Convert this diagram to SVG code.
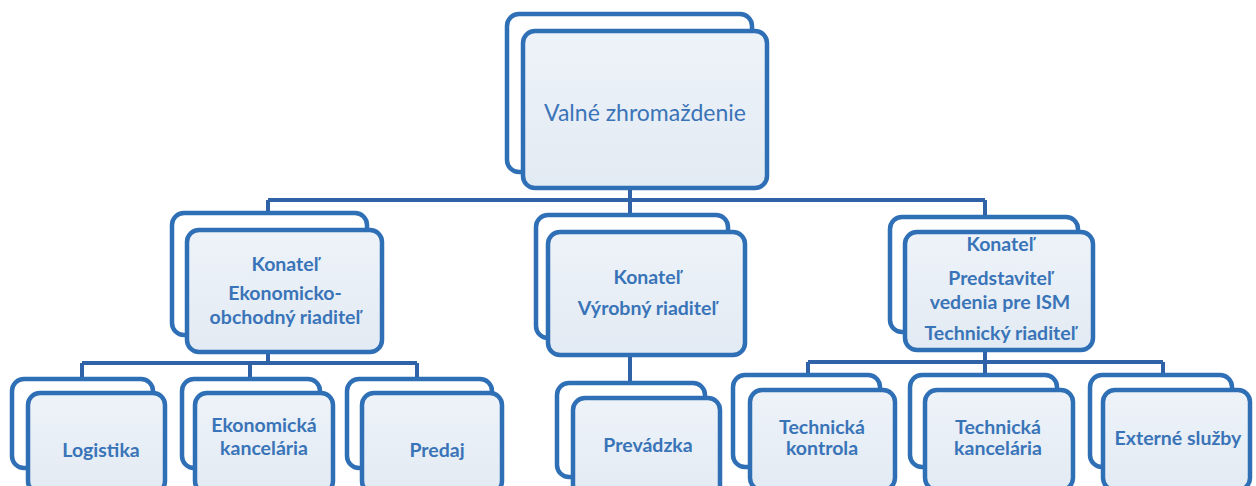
<svg xmlns="http://www.w3.org/2000/svg" width="1256" height="486" viewBox="0 0 1256 486">
<defs>
<linearGradient id="g" x1="0" y1="0" x2="0" y2="1">
<stop offset="0" stop-color="#eef3f9"/>
<stop offset="1" stop-color="#e2eaf3"/>
</linearGradient>
<style>
.bk{fill:#ffffff;stroke:#2f6fb6;stroke-width:4.5}
.fr{fill:url(#g);stroke:#2f6fb6;stroke-width:4.5}
.c{fill:none;stroke:#2f62a6;stroke-width:4}
.t{font-family:Lato,"Open Sans",sans-serif;font-weight:700;fill:#3a74b8;text-anchor:middle;font-size:19.5px}
.tl{font-size:23px;font-weight:400}
</style>
</defs>
<rect width="1256" height="486" fill="#ffffff"/>
<g id="connectors">
<path class="c" d="M630 188V200M268 200H985M268 200V215M630 200V215M985 200V217"/>
<path class="c" d="M268 352V363M82 363H417M82 363V379M250 363V379M417 363V379"/>
<path class="c" d="M630 355V383"/>
<path class="c" d="M985 350V362M808 362H1163M808 362V375M985 362V375M1163 362V375"/>
</g>
<g id="n-valne">
<rect class="bk" x="507" y="14" width="245" height="158" rx="12"/>
<rect class="fr" x="523" y="31" width="244" height="157" rx="12"/>
<text class="t tl" x="645" y="121">Valné zhromaždenie</text>
</g>
<g id="n-ekon">
<rect class="bk" x="172" y="213" width="195" height="122" rx="12"/>
<rect class="fr" x="187" y="230" width="195" height="122" rx="12"/>
<text class="t" x="285" y="271">Konateľ</text>
<text class="t" x="285" y="300">Ekonomicko-</text>
<text class="t" x="285" y="324">obchodný riaditeľ</text>
</g>
<g id="n-vyrob">
<rect class="bk" x="536" y="215" width="192" height="123" rx="12"/>
<rect class="fr" x="548" y="232" width="197" height="123" rx="12"/>
<text class="t" x="647" y="284">Konateľ</text>
<text class="t" x="647" y="315">Výrobný riaditeľ</text>
</g>
<g id="n-tech">
<rect class="bk" x="890" y="217" width="188" height="115" rx="12"/>
<rect class="fr" x="905" y="232" width="188" height="118" rx="12"/>
<text class="t" x="1000" y="251">Konateľ</text>
<text class="t" x="1000" y="285">Predstaviteľ</text>
<text class="t" x="1000" y="309">vedenia pre ISM</text>
<text class="t" x="1000" y="340">Technický riaditeľ</text>
</g>
<g id="n-logistika">
<rect class="bk" x="12" y="379" width="141" height="89" rx="12"/>
<rect class="fr" x="28" y="393" width="137" height="100" rx="12"/>
<text class="t" x="101" y="457">Logistika</text>
</g>
<g id="n-ekkanc">
<rect class="bk" x="182" y="379" width="138" height="89" rx="12"/>
<rect class="fr" x="195" y="393" width="138" height="100" rx="12"/>
<text class="t" x="264" y="432">Ekonomická</text>
<text class="t" x="264" y="455">kancelária</text>
</g>
<g id="n-predaj">
<rect class="bk" x="347" y="379" width="145" height="89" rx="12"/>
<rect class="fr" x="362" y="393" width="140" height="100" rx="12"/>
<text class="t" x="437" y="457">Predaj</text>
</g>
<g id="n-prevadzka">
<rect class="bk" x="557" y="383" width="148" height="94" rx="12"/>
<rect class="fr" x="573" y="398" width="147" height="100" rx="12"/>
<text class="t" x="648" y="452">Prevádzka</text>
</g>
<g id="n-tkontrola">
<rect class="bk" x="733" y="375" width="147" height="92" rx="12"/>
<rect class="fr" x="750" y="390" width="145" height="100" rx="12"/>
<text class="t" x="822" y="434">Technická</text>
<text class="t" x="822" y="455">kontrola</text>
</g>
<g id="n-tkanc">
<rect class="bk" x="910" y="375" width="147" height="92" rx="12"/>
<rect class="fr" x="925" y="390" width="148" height="100" rx="12"/>
<text class="t" x="998" y="434">Technická</text>
<text class="t" x="998" y="455">kancelária</text>
</g>
<g id="n-externe">
<rect class="bk" x="1090" y="375" width="142" height="92" rx="12"/>
<rect class="fr" x="1103" y="390" width="147" height="100" rx="12"/>
<text class="t" x="1178" y="445">Externé služby</text>
</g>
</svg>
